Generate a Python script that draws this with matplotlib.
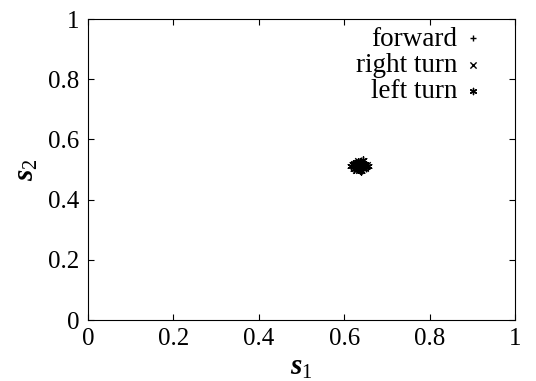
import matplotlib.pyplot as plt

plt.rcParams['font.family'] = 'Liberation Serif'
plt.rcParams['mathtext.fontset'] = 'custom'
plt.rcParams['mathtext.rm'] = 'Liberation Serif'
plt.rcParams['mathtext.it'] = 'Liberation Serif:italic'
plt.rcParams['mathtext.bf'] = 'Liberation Serif:italic:bold'

# sampled state (s1, s2) for each action
forward_s1 = [0.628, 0.634, 0.641, 0.646, 0.632, 0.638, 0.644, 0.625, 0.650, 0.636,
              0.630, 0.642, 0.639, 0.633, 0.647, 0.627, 0.652, 0.640]
forward_s2 = [0.512, 0.520, 0.507, 0.516, 0.502, 0.526, 0.511, 0.518, 0.506, 0.513,
              0.523, 0.499, 0.519, 0.509, 0.521, 0.504, 0.514, 0.529]
right_s1 = [0.620, 0.626, 0.631, 0.637, 0.643, 0.648, 0.623, 0.635, 0.640, 0.629,
            0.645, 0.653, 0.633, 0.638, 0.627, 0.642]
right_s2 = [0.514, 0.506, 0.521, 0.511, 0.517, 0.504, 0.518, 0.499, 0.525, 0.512,
            0.509, 0.515, 0.530, 0.503, 0.497, 0.520]
left_s1 = [0.617, 0.624, 0.630, 0.636, 0.641, 0.647, 0.651, 0.632, 0.639, 0.644,
           0.628, 0.635, 0.656, 0.621, 0.643, 0.637]
left_s2 = [0.512, 0.503, 0.518, 0.508, 0.513, 0.520, 0.510, 0.526, 0.496, 0.505,
           0.523, 0.514, 0.512, 0.518, 0.531, 0.500]

fig = plt.figure(figsize=(5.36, 3.81), dpi=100)
ax = fig.add_axes([0.164, 0.160, 0.797, 0.790])

ax.scatter(forward_s1, forward_s2, marker='+', s=30, c='black', linewidths=1, label='forward')
ax.scatter(right_s1, right_s2, marker='x', s=22, c='black', linewidths=1, label='right turn')
ax.scatter(left_s1, left_s2, marker=(6, 2, 0), s=28, c='black', linewidths=1, label='left turn')

ax.set_xlim(0, 1)
ax.set_ylim(0, 1)
ax.set_xticks([0, 0.2, 0.4, 0.6, 0.8, 1])
ax.set_yticks([0, 0.2, 0.4, 0.6, 0.8, 1])
ax.set_xticklabels(['0', '0.2', '0.4', '0.6', '0.8', '1'])
ax.set_yticklabels(['0', '0.2', '0.4', '0.6', '0.8', '1'])
ax.tick_params(direction='in', top=True, right=True, labelsize=18, length=4, pad=6)

ax.set_xlabel(r'$\mathbf{s}_{1}$', fontsize=21, labelpad=3)
ax.set_ylabel(r'$\mathbf{s}_{2}$', fontsize=21, labelpad=6)

leg = ax.legend(loc='upper right', bbox_to_anchor=(0.932, 0.993), frameon=False,
                markerfirst=False, fontsize=19.5, handletextpad=0.25, labelspacing=0.05,
                borderpad=0.1, handlelength=0.6, borderaxespad=0.1)
for h in leg.legend_handles:
    h.set_sizes([20])

fig.savefig('out.png', dpi=100)
